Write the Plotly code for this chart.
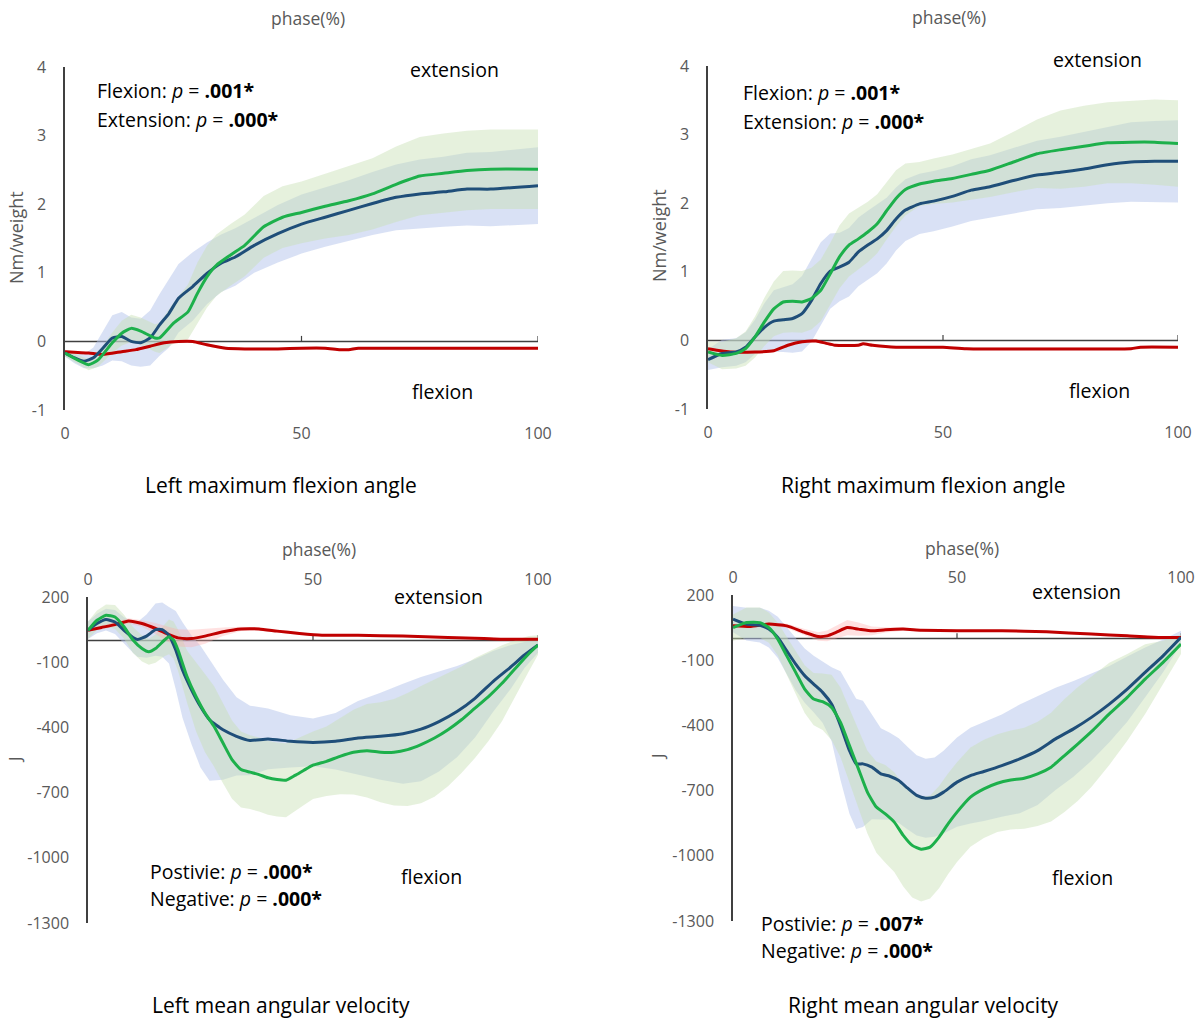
import numpy as np
import plotly.graph_objects as go

W, H = 1200, 1025

# ---------------- Panel 1: Left maximum flexion angle (Nm/weight) ----------------
p1_green_x = [0, 5, 7, 10, 12, 14, 16, 19, 20, 23, 26, 28, 30, 32, 35, 38, 42, 46, 50, 55, 60, 65, 70, 75, 80, 85, 90, 100]
p1_green = [-0.17, -0.34, -0.27, -0.02, 0.12, 0.19, 0.15, 0.05, 0.05, 0.27, 0.43, 0.70, 0.94, 1.11, 1.26, 1.40, 1.67, 1.81, 1.88, 1.97, 2.05, 2.15, 2.29, 2.41, 2.45, 2.49, 2.51, 2.51]
p1_green_sd = [0.05, 0.08, 0.1, 0.15, 0.18, 0.2, 0.2, 0.2, 0.22, 0.3, 0.4, 0.45, 0.45, 0.45, 0.45, 0.45, 0.45, 0.45, 0.45, 0.47, 0.5, 0.52, 0.55, 0.57, 0.58, 0.58, 0.58, 0.58]
p1_blue_x = [0, 2, 4, 6, 8, 10, 12, 14, 16, 18, 20, 22, 24, 27, 30, 33, 36, 40, 45, 50, 55, 60, 65, 70, 75, 80, 85, 90, 100]
p1_blue = [-0.17, -0.24, -0.29, -0.24, -0.10, 0.05, 0.07, 0.0, -0.02, 0.05, 0.24, 0.41, 0.63, 0.80, 0.99, 1.14, 1.23, 1.40, 1.57, 1.71, 1.81, 1.91, 2.01, 2.10, 2.15, 2.18, 2.22, 2.22, 2.27]
p1_blue_sd = [0.05, 0.08, 0.1, 0.15, 0.25, 0.33, 0.36, 0.35, 0.35, 0.4, 0.45, 0.5, 0.5, 0.5, 0.45, 0.42, 0.42, 0.4, 0.42, 0.43, 0.43, 0.44, 0.46, 0.48, 0.5, 0.51, 0.53, 0.54, 0.56]
p1_red_x = [0, 5, 8, 12, 15, 18, 21, 24, 27, 30, 34, 38, 45, 50, 55, 58, 60, 62, 70, 100]
p1_red = [-0.15, -0.17, -0.19, -0.15, -0.12, -0.07, -0.02, 0.0, 0.0, -0.05, -0.10, -0.11, -0.11, -0.10, -0.10, -0.12, -0.12, -0.10, -0.10, -0.10]
p1_red_sd = [0.02] * 20

# ---------------- Panel 2: Right maximum flexion angle ----------------
p2_x = [0, 3, 6, 8, 10, 12, 14, 16, 18, 20, 22, 24, 26, 28, 30, 32, 34, 36, 38, 40, 42, 45, 48, 52, 56, 60, 65, 70, 75, 80, 85, 90, 95, 100]
p2_green = [-0.17, -0.22, -0.19, -0.12, 0.05, 0.27, 0.46, 0.56, 0.57, 0.56, 0.61, 0.73, 0.97, 1.22, 1.39, 1.48, 1.58, 1.70, 1.89, 2.07, 2.20, 2.28, 2.32, 2.36, 2.42, 2.48, 2.60, 2.72, 2.78, 2.83, 2.88, 2.89, 2.89, 2.87]
p2_green_sd = [0.15, 0.2, 0.22, 0.25, 0.3, 0.35, 0.4, 0.45, 0.45, 0.45, 0.45, 0.45, 0.45, 0.46, 0.46, 0.45, 0.44, 0.43, 0.42, 0.41, 0.38, 0.32, 0.33, 0.35, 0.37, 0.39, 0.44, 0.5, 0.57, 0.59, 0.59, 0.6, 0.62, 0.63]
p2_blue = [-0.28, -0.19, -0.17, -0.10, 0.05, 0.19, 0.28, 0.30, 0.32, 0.39, 0.58, 0.83, 1.01, 1.07, 1.14, 1.29, 1.39, 1.48, 1.60, 1.77, 1.90, 1.99, 2.03, 2.10, 2.19, 2.24, 2.33, 2.41, 2.45, 2.50, 2.56, 2.60, 2.61, 2.61]
p2_blue_sd = [0.15, 0.2, 0.2, 0.22, 0.25, 0.35, 0.45, 0.47, 0.5, 0.55, 0.6, 0.6, 0.55, 0.5, 0.5, 0.5, 0.5, 0.5, 0.48, 0.46, 0.45, 0.44, 0.44, 0.44, 0.45, 0.46, 0.48, 0.5, 0.52, 0.54, 0.56, 0.58, 0.59, 0.6]
p2_red_x = [0, 5, 10, 14, 17, 20, 23, 25, 27, 32, 33, 35, 40, 50, 55, 90, 92, 100]
p2_red = [-0.12, -0.17, -0.17, -0.15, -0.07, -0.02, -0.01, -0.04, -0.07, -0.07, -0.05, -0.07, -0.10, -0.10, -0.12, -0.12, -0.10, -0.10]
p2_red_sd = [0.02] * 18

# ---------------- Panel 3: Left mean angular velocity (J) ----------------
p3_green_x = [0, 2, 4, 6, 8, 10, 12, 13.5, 15, 17, 18, 19, 20, 22, 24, 26, 28, 30, 32, 34, 36, 38, 40, 42, 44, 46, 48, 50, 53, 56, 59, 62, 65, 68, 71, 74, 77, 80, 83, 86, 89, 92, 95, 98, 100]
p3_green = [47, 93, 116, 108, 63, 2, -37, -52, -37, 2, 17, 2, -44, -166, -258, -334, -395, -472, -548, -594, -606, -617, -632, -640, -643, -621, -597, -574, -556, -533, -514, -507, -514, -514, -502, -479, -449, -411, -365, -311, -258, -197, -128, -60, -21]
p3_green_sd = [40, 45, 50, 55, 55, 60, 60, 60, 65, 75, 80, 85, 95, 120, 160, 180, 185, 185, 180, 175, 170, 170, 170, 170, 170, 165, 160, 155, 160, 175, 195, 215, 230, 245, 260, 270, 270, 260, 245, 230, 205, 175, 130, 80, 45]
p3_blue_x = [0, 2, 4, 6, 8, 10, 11, 13, 15, 16.5, 18, 19.5, 21, 23, 25, 27, 30, 33, 36, 40, 45, 50, 55, 60, 65, 70, 74, 78, 82, 86, 90, 94, 97, 100]
p3_blue = [47, 78, 96, 85, 47, 14, 5, 20, 50, 50, 24, -44, -136, -227, -304, -365, -411, -441, -460, -453, -464, -469, -464, -449, -441, -429, -408, -373, -327, -266, -189, -121, -67, -21]
p3_blue_sd = [40, 45, 50, 55, 60, 70, 80, 100, 120, 125, 130, 180, 220, 250, 280, 280, 230, 180, 160, 140, 120, 110, 130, 170, 200, 230, 240, 230, 210, 180, 140, 100, 60, 35]
p3_red_x = [0, 3, 6, 9, 12, 15, 18, 20, 23, 26, 30, 34, 38, 42, 47, 52, 60, 70, 80, 88, 92, 100]
p3_red = [47, 60, 73, 90, 78, 55, 27, 12, 9, 20, 40, 53, 53, 43, 32, 24, 24, 20, 14, 9, 6, 6]
p3_red_sd = [5, 8, 10, 12, 15, 25, 35, 40, 40, 35, 20, 10, 8, 8, 6, 5, 5, 5, 5, 5, 5, 5]

# ---------------- Panel 4: Right mean angular velocity (J) ----------------
p4_green_x = [0, 3, 6, 8, 10, 12, 14, 16, 18, 20, 22, 24, 26, 28, 30, 32, 34, 36, 38, 40, 42, 44, 46, 48, 50, 53, 56, 59, 62, 65, 68, 71, 74, 77, 80, 84, 88, 92, 96, 100]
p4_green = [50, 73, 73, 50, -3, -80, -156, -233, -279, -291, -317, -386, -493, -600, -707, -776, -807, -845, -906, -952, -970, -960, -914, -853, -799, -730, -692, -666, -651, -643, -623, -592, -539, -485, -429, -347, -271, -187, -110, -26]
p4_green_sd = [60, 70, 70, 70, 75, 85, 100, 110, 120, 130, 150, 160, 170, 180, 190, 210, 225, 230, 235, 240, 240, 237, 235, 232, 230, 228, 226, 225, 228, 232, 240, 250, 260, 262, 255, 235, 200, 160, 100, 45]
p4_blue_x = [0, 3, 6, 8, 10, 12, 14, 16, 18, 20, 22, 24, 26, 27.5, 29, 31, 33, 35, 37, 39, 41, 43, 45, 47, 50, 53, 56, 60, 64, 68, 72, 76, 80, 84, 88, 92, 96, 100]
p4_blue = [89, 66, 61, 43, 5, -57, -118, -171, -210, -248, -302, -401, -516, -577, -577, -592, -623, -634, -654, -689, -722, -735, -730, -707, -661, -631, -612, -585, -554, -516, -462, -416, -363, -302, -233, -156, -80, 5]
p4_blue_sd = [60, 75, 80, 85, 95, 110, 120, 125, 130, 140, 170, 250, 290, 300, 290, 240, 210, 200, 195, 190, 185, 182, 182, 190, 205, 220, 228, 235, 250, 250, 235, 220, 200, 175, 150, 115, 75, 30]
p4_red_x = [0, 4, 8, 12, 16, 19, 21, 23, 25.5, 28, 31, 34, 38, 42, 50, 60, 70, 80, 88, 95, 100]
p4_red = [58, 55, 66, 58, 28, 9, 12, 28, 50, 43, 35, 40, 43, 38, 35, 35, 31, 20, 12, 5, 5]
p4_red_sd = [5, 5, 8, 10, 15, 20, 25, 30, 35, 30, 20, 12, 8, 6, 5, 5, 5, 5, 5, 5, 5]

# axis ticks
x_ticks = [0, 50, 100]
torque_ticks = [-1, 0, 1, 2, 3, 4]
power_ticks = [200, -100, -400, -700, -1000, -1300]

GREEN = "#1DB04B"
BLUE = "#1F4E79"
RED = "#C00000"
GREEN_BAND = "rgba(200,225,180,0.45)"
BLUE_BAND = "rgba(180,195,235,0.5)"
RED_BAND = "rgba(255,170,170,0.35)"
GRAY = "#595959"
FONT = "Open Sans"


def px(x):
    return x / W


def py(y):
    return 1 - y / H


panels = [
    dict(xa="x", ya="y", xdom=[px(65), px(538)], ydom=[py(410), py(67)], rng=[-1, 4], ticks=torque_ticks,
         side="bottom", series=[
             (p1_blue_x, p1_blue, p1_blue_sd, BLUE, BLUE_BAND),
             (p1_green_x, p1_green, p1_green_sd, GREEN, GREEN_BAND),
             (p1_red_x, p1_red, p1_red_sd, RED, RED_BAND)]),
    dict(xa="x2", ya="y2", xdom=[px(708), px(1178)], ydom=[py(409), py(66)], rng=[-1, 4], ticks=torque_ticks,
         side="bottom", series=[
             (p2_x, p2_blue, p2_blue_sd, BLUE, BLUE_BAND),
             (p2_x, p2_green, p2_green_sd, GREEN, GREEN_BAND),
             (p2_red_x, p2_red, p2_red_sd, RED, RED_BAND)]),
    dict(xa="x3", ya="y3", xdom=[px(88), px(538)], ydom=[py(923), py(597)], rng=[-1300, 200], ticks=power_ticks,
         side="top", series=[
             (p3_blue_x, p3_blue, p3_blue_sd, BLUE, BLUE_BAND),
             (p3_green_x, p3_green, p3_green_sd, GREEN, GREEN_BAND),
             (p3_red_x, p3_red, p3_red_sd, RED, RED_BAND)]),
    dict(xa="x4", ya="y4", xdom=[px(733), px(1181)], ydom=[py(921), py(595)], rng=[-1300, 200], ticks=power_ticks,
         side="top", series=[
             (p4_blue_x, p4_blue, p4_blue_sd, BLUE, BLUE_BAND),
             (p4_green_x, p4_green, p4_green_sd, GREEN, GREEN_BAND),
             (p4_red_x, p4_red, p4_red_sd, RED, RED_BAND)]),
]

fig = go.Figure()
layout = dict(template="none", width=W, height=H, autosize=False,
              margin=dict(l=0, r=0, t=0, b=0, pad=0, autoexpand=False), showlegend=False,
              plot_bgcolor="white", paper_bgcolor="white", font=dict(family=FONT))
shapes = []

for i, p in enumerate(panels):
    # bands first
    for (xs, m, sd, lc, bc) in p["series"]:
        xs = np.array(xs, float)
        m = np.array(m, float)
        sd = np.array(sd, float)
        fig.add_trace(go.Scatter(x=np.concatenate([xs, xs[::-1]]),
                                 y=np.concatenate([m + sd, (m - sd)[::-1]]),
                                 fill="toself", fillcolor=bc, line=dict(width=0),
                                 mode="lines", hoverinfo="skip", xaxis=p["xa"], yaxis=p["ya"]))
    # lines: red, blue, green
    for idx in [2, 0, 1]:
        xs, m, sd, lc, bc = p["series"][idx]
        fig.add_trace(go.Scatter(x=xs, y=m, mode="lines",
                                 line=dict(color=lc, width=3, shape="spline", smoothing=0.5),
                                 xaxis=p["xa"], yaxis=p["ya"]))
    n = "" if i == 0 else str(i + 1)
    layout["xaxis" + n] = dict(domain=p["xdom"], range=[0, 100], anchor=p["ya"], side=p["side"],
                               tickvals=x_ticks, ticktext=[str(t) for t in x_ticks],
                               showgrid=False, zeroline=False, showline=False, automargin=False,
                               ticks="", ticklabelstandoff=(12 if p["side"] == "bottom" else 8),
                               tickfont=dict(size=16, color=GRAY, family=FONT))
    layout["yaxis" + n] = dict(domain=p["ydom"], range=p["rng"], anchor=p["xa"],
                               tickvals=p["ticks"], ticktext=[str(t) for t in p["ticks"]],
                               showgrid=False, zeroline=False, automargin=False,
                               showline=True, linecolor="#404040", linewidth=1.5,
                               ticks="", ticklabelstandoff=14,
                               tickfont=dict(size=16, color=GRAY, family=FONT))
    # horizontal zero axis line with upward tick marks
    span = p["rng"][1] - p["rng"][0]
    tick_len = span * 0.016
    shapes.append(dict(type="line", xref=p["xa"], yref=p["ya"], x0=x_ticks[0], x1=x_ticks[-1], y0=0, y1=0,
                       line=dict(color="#404040", width=1.5), layer="below"))
    for t in x_ticks[1:]:
        shapes.append(dict(type="line", xref=p["xa"], yref=p["ya"], x0=t, x1=t, y0=0, y1=tick_len,
                           line=dict(color="#404040", width=1.2), layer="below"))

layout["shapes"] = shapes

ann = []


def text(x, y, s, size=18, color="black", xanchor="center", angle=0):
    ann.append(dict(x=px(x), y=py(y), xref="paper", yref="paper", text=s, showarrow=False,
                    xanchor=xanchor, yanchor="middle", textangle=angle,
                    font=dict(size=size, color=color, family=FONT)))


# axis titles
text(308, 18, "phase(%)", 17.5, GRAY)
text(949, 17, "phase(%)", 17.5, GRAY)
text(319, 549, "phase(%)", 17.5, GRAY)
text(962, 548, "phase(%)", 17.5, GRAY)
text(16, 238, "Nm/weight", 18, GRAY, angle=-90)
text(659, 236, "Nm/weight", 18, GRAY, angle=-90)
text(14, 760, "J", 17, GRAY, angle=-90)
text(657, 757, "J", 17, GRAY, angle=-90)

# direction labels
text(454, 69, "extension", 19.5)
text(442, 391, "flexion", 19.5)
text(1097, 59, "extension", 19.5)
text(1099, 390, "flexion", 19.5)
text(438, 596, "extension", 19.5)
text(431, 876, "flexion", 19.5)
text(1076, 591, "extension", 19.5)
text(1082, 877, "flexion", 19.5)

# statistics
text(95, 91, "Flexion: <i>p</i> = <b>.001*</b>", 19.5, xanchor="left")
text(95, 120, "Extension: <i>p</i> = <b>.000*</b>", 19.5, xanchor="left")
text(741, 93, "Flexion: <i>p</i> = <b>.001*</b>", 19.5, xanchor="left")
text(741, 121, "Extension: <i>p</i> = <b>.000*</b>", 19.5, xanchor="left")
text(148, 871, "Postivie: <i>p</i> = <b>.000*</b>", 19.5, xanchor="left")
text(148, 898, "Negative: <i>p</i> = <b>.000*</b>", 19.5, xanchor="left")
text(759, 923, "Postivie: <i>p</i> = <b>.007*</b>", 19.5, xanchor="left")
text(759, 950, "Negative: <i>p</i> = <b>.000*</b>", 19.5, xanchor="left")

# panel captions
text(281, 485, "Left maximum flexion angle", 21)
text(923, 485, "Right maximum flexion angle", 21)
text(281, 1005, "Left mean angular velocity", 21)
text(923, 1005, "Right mean angular velocity", 21)

layout["annotations"] = ann
fig.update_layout(**layout)

pin_js = (
    "document.documentElement.style.margin='0';document.documentElement.style.padding='0';"
    "document.documentElement.style.overflow='hidden';"
    "document.body.style.margin='0';document.body.style.padding='0';document.body.style.overflow='hidden';"
    "var gd=document.getElementsByClassName('plotly-graph-div')[0];"
    "gd.style.position='absolute';gd.style.left='0px';gd.style.top='0px';"
)
fig.write_html("out.html", post_script=pin_js, config={"displayModeBar": False})
